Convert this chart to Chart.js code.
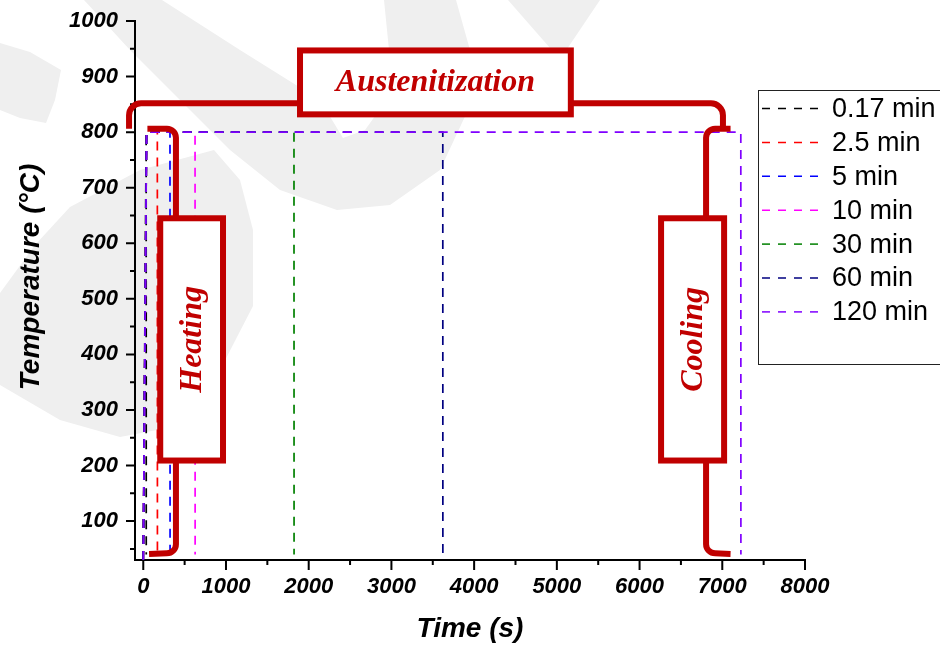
<!DOCTYPE html>
<html>
<head>
<meta charset="utf-8">
<script src="https://cdn.jsdelivr.net/npm/chart.js@4.4.1/dist/chart.umd.min.js"></script>
<style>
  html, body { margin: 0; padding: 0; background: #fff; }
  #wrap { width: 940px; height: 646px; }
</style>
</head>
<body>
<div id="wrap"><canvas id="chart" width="940" height="646"></canvas></div>
<script>
// soaking times shown in the legend
const soakLabels = ["0.17 min", "2.5 min", "5 min", "10 min", "30 min", "60 min", "120 min"];
const soakColors = ["#000000", "#ff0000", "#0000ff", "#ff00ff", "#008000", "#000080", "#8000ff"];

// profile points: time (s) per series, shared temperatures (°C)
const profileTimes = [
  [0, 35, 35, 36],
  [0, 40, 170, 171],
  [0, 40, 323, 324],
  [0, 40, 626, 627],
  [0, 40, 1822, 1823],
  [0, 40, 3621, 3622],
  [0, 40, 7224, 7225]
];
const profileTemps = [30, 800, 800, 40];

const xTicks = [0, 1000, 2000, 3000, 4000, 5000, 6000, 7000, 8000];
const yTicks = [100, 200, 300, 400, 500, 600, 700, 800, 900, 1000];

const RED = "#c00000";

const datasets = soakLabels.map((label, i) => ({
  label,
  data: profileTimes[i].map((t, k) => ({ x: t, y: profileTemps[k] })),
  borderColor: soakColors[i],
  borderWidth: 1.7,
  borderDash: [9, 7],
  pointRadius: 0,
  fill: false,
  tension: 0,
  order: soakLabels.length - i
}));

// faint background watermark
const watermark = {
  id: "watermark",
  beforeDraw(chart) {
    const ctx = chart.ctx;
    const shapes = [
      [[84,0],[130,50],[180,100],[230,150],[280,190],[337,210],[390,205],[440,170],[468,110],[470,50],[456,0],
       [384,0],[390,60],[383,105],[365,130],[343,138],[320,100],[240,50],[162,0]],
      [[508,0],[600,0],[565,52],[550,48]],
      [[0,43],[30,52],[61,70],[55,100],[46,123],[20,118],[0,110]],
      [[0,293],[35,245],[70,207],[140,170],[214,150],[240,180],[253,230],[253,306],[220,370],[157,430],[120,437],[60,420],[0,385]]
    ];
    ctx.save();
    ctx.fillStyle = "#efefef";
    shapes.forEach(pts => {
      ctx.beginPath();
      pts.forEach(([px, py], k) => k ? ctx.lineTo(px, py) : ctx.moveTo(px, py));
      ctx.closePath();
      ctx.fill();
    });
    ctx.restore();
  }
};

// minor / major tick marks, y title, annotations and legend
const decorations = {
  id: "decorations",
  afterDraw(chart) {
    const ctx = chart.ctx;
    const xs = chart.scales.x, ys = chart.scales.y;
    const X = v => xs.getPixelForValue(v), Y = v => ys.getPixelForValue(v);
    const area = chart.chartArea;

    ctx.save();
    // tick marks
    ctx.strokeStyle = "#000";
    ctx.lineWidth = 2;
    ctx.beginPath();
    xTicks.forEach(v => { ctx.moveTo(X(v), area.bottom); ctx.lineTo(X(v), area.bottom + 10); });
    xTicks.slice(1).forEach(v => { ctx.moveTo(X(v - 500), area.bottom); ctx.lineTo(X(v - 500), area.bottom + 5); });
    yTicks.forEach(v => { ctx.moveTo(area.left, Y(v)); ctx.lineTo(area.left - 9, Y(v)); });
    yTicks.forEach(v => { ctx.moveTo(area.left, Y(v - 50)); ctx.lineTo(area.left - 5, Y(v - 50)); });
    ctx.stroke();

    // y axis title
    ctx.save();
    ctx.translate(31, 277);
    ctx.rotate(-Math.PI / 2);
    ctx.font = "italic bold 28px 'Liberation Sans', Arial, sans-serif";
    ctx.fillStyle = "#000";
    ctx.textAlign = "center";
    ctx.textBaseline = "middle";
    ctx.fillText("Temperature (°C)", 0, 0);
    ctx.restore();

    // annotation brackets
    ctx.strokeStyle = RED;
    ctx.lineWidth = 6;
    ctx.lineCap = "butt";
    ctx.lineJoin = "round";
    ctx.beginPath();
    ctx.moveTo(X(-172), Y(806));
    ctx.arcTo(X(-172), Y(852), X(0), Y(852), 12);
    ctx.arcTo(X(7008), Y(852), X(7008), Y(806), 12);
    ctx.lineTo(X(7008), Y(806));
    // heating
    ctx.moveTo(X(50), Y(806));
    ctx.arcTo(X(395), Y(806), X(395), Y(645), 9);
    ctx.lineTo(X(395), Y(645));
    ctx.moveTo(X(395), Y(209));
    ctx.arcTo(X(395), Y(42), X(70), Y(42), 9);
    ctx.lineTo(X(70), Y(41));
    // cooling
    ctx.moveTo(X(7100), Y(806));
    ctx.arcTo(X(6804), Y(806), X(6804), Y(645), 9);
    ctx.lineTo(X(6804), Y(645));
    ctx.moveTo(X(6804), Y(209));
    ctx.arcTo(X(6804), Y(42), X(7100), Y(42), 9);
    ctx.lineTo(X(7100), Y(41));
    ctx.stroke();

    const box = (x0, x1, y0, y1) => {
      const l = X(x0), r = X(x1), t = Y(y1), b = Y(y0);
      ctx.fillStyle = "#fff";
      ctx.fillRect(l, t, r - l, b - t);
      ctx.strokeRect(l, t, r - l, b - t);
    };
    ctx.lineJoin = "miter";
    box(1895, 5169, 832, 947);
    box(205, 964, 209, 645);
    box(6260, 7022, 209, 645);

    ctx.fillStyle = RED;
    ctx.font = "italic bold 32px 'Liberation Serif', 'Times New Roman', serif";
    ctx.textAlign = "center";
    ctx.textBaseline = "middle";
    ctx.fillText("Austenitization", X(3532), Y(889));
    [["Heating", 585], ["Cooling", 6641]].forEach(([txt, xv]) => {
      ctx.save();
      ctx.translate(X(xv) + 1, Y(427));
      ctx.rotate(-Math.PI / 2);
      ctx.fillText(txt, 0, 0);
      ctx.restore();
    });

    // legend
    ctx.strokeStyle = "#222";
    ctx.lineWidth = 1;
    ctx.strokeRect(758.5, 90.5, 200, 274);
    ctx.font = "27px 'Liberation Sans', Arial, sans-serif";
    ctx.textAlign = "left";
    ctx.textBaseline = "middle";
    soakLabels.forEach((label, i) => {
      const yy = 108.5 + i * 33.9;
      ctx.strokeStyle = soakColors[i];
      ctx.lineWidth = 1.5;
      ctx.setLineDash([8, 8]);
      ctx.beginPath();
      ctx.moveTo(762, yy);
      ctx.lineTo(824, yy);
      ctx.stroke();
      ctx.setLineDash([]);
      ctx.fillStyle = "#000";
      ctx.fillText(label, 832, yy + 1);
    });
    ctx.restore();
  }
};

const tickFont = { family: "'Liberation Sans', Arial, sans-serif", size: 22, weight: "bold", style: "italic" };

new Chart(document.getElementById("chart"), {
  type: "line",
  data: { datasets },
  plugins: [watermark, decorations],
  options: {
    responsive: false,
    animation: false,
    devicePixelRatio: 1,
    layout: { padding: { top: 21, right: 135, left: 0, bottom: 0 } },
    plugins: { legend: { display: false }, tooltip: { enabled: false } },
    scales: {
      x: {
        type: "linear",
        min: -100,
        max: 8000,
        afterBuildTicks: s => { s.ticks = xTicks.map(v => ({ value: v })); },
        afterFit: s => { s.height = 86; s.paddingLeft = 0; s.paddingRight = 0; },
        grid: { display: false, drawTicks: false },
        border: { display: true, color: "#000", width: 2 },
        ticks: { color: "#000", font: tickFont, padding: 14, maxRotation: 0, callback: v => String(v) },
        title: {
          display: true,
          text: "Time (s)",
          color: "#000",
          font: { family: "'Liberation Sans', Arial, sans-serif", size: 28, weight: "bold", style: "italic" },
          padding: { top: 0, bottom: 0 }
        }
      },
      y: {
        type: "linear",
        min: 30,
        max: 1000,
        afterBuildTicks: s => { s.ticks = yTicks.map(v => ({ value: v })); },
        afterFit: s => { s.width = 135; s.paddingTop = 0; s.paddingBottom = 0; },
        grid: { display: false, drawTicks: false },
        border: { display: true, color: "#000", width: 2 },
        ticks: { color: "#000", font: tickFont, padding: 17, callback: v => String(v) }
      }
    }
  }
});
</script>
</body>
</html>
